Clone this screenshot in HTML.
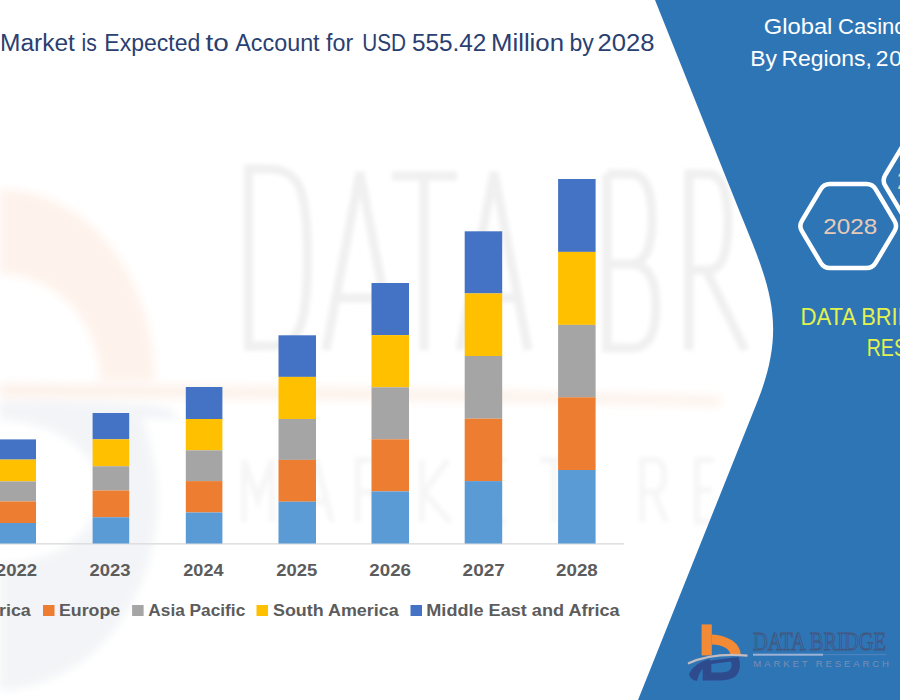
<!DOCTYPE html>
<html><head><meta charset="utf-8">
<style>
html,body{margin:0;padding:0;background:#fff;}
body{width:900px;height:700px;overflow:hidden;position:relative;font-family:"Liberation Sans",sans-serif;}
svg{position:absolute;left:0;top:0;display:block;}
</style></head>
<body>
<svg width="900" height="700" viewBox="0 0 900 700" font-family="Liberation Sans, sans-serif">
<rect x="0" y="0" width="900" height="700" fill="#ffffff"/>


<!-- watermark -->
<defs>
<filter id="blur2" x="-10%" y="-10%" width="120%" height="120%"><feGaussianBlur stdDeviation="2"/></filter>
<filter id="blur4" x="-10%" y="-10%" width="120%" height="120%"><feGaussianBlur stdDeviation="4"/></filter>
</defs>
<g filter="url(#blur4)">
<path d="M0,381 L0,189 A155,192 0 0 1 155,381 L100,381 A100,107 0 0 0 0,274 Z" fill="#FEF3EC"/>
<path d="M0,383 Q350,386 720,396 L720,406 Q350,398 0,398 Z" fill="#FDF2EB"/>
<path d="M0,402 Q150,400 175,412 L175,420 Q150,414 0,418 Z" fill="#F1F3F7"/>
<path d="M0,405 L136,405 A160,190 0 0 1 0,690 Z M0,420 A100,72 0 0 1 0,564 Z" fill="#F3F4F7" fill-rule="evenodd"/>
</g>
<g filter="url(#blur2)" fill="none" stroke="#F0F0F0" stroke-width="9">
<path d="M248.5,169 L268,169 C300,169 307.5,190 307.5,258 C307.5,326 300,346 268,346 L248.5,346 Z"/>
<path d="M326,350 L360,172 L394,350 M335,298 L385,298"/>
<path d="M392,176 L457,176 M424,176 L424,350"/>
<path d="M460,350 L494,172 L528,350 M469,298 L519,298"/>
<path d="M607,174 L607,348 L632,348 Q656,348 656,306 Q656,264 630,264 L607,264 M630,264 Q652,264 652,219 Q652,174 630,174 L607,174"/>
<path d="M689,350 L689,174 L708,174 Q728,174 728,222 Q728,270 708,270 L689,270 M706,270 L745,350"/>
</g>
<g filter="url(#blur2)" fill="none" stroke="#F6F6F6" stroke-width="6">
<path d="M244,522 L244,460 L258,500 L272,460 L272,522"/>
<path d="M300,522 L316,460 L332,522 M305,502 L327,502"/>
<path d="M358,522 L358,460 L372,460 Q384,460 384,476 Q384,492 372,492 L358,492 M372,492 L386,522"/>
<path d="M422,522 L422,460 M448,460 L424,492 L450,522"/>
<path d="M506,460 L484,460 L484,522 L506,522 M484,490 L502,490"/>
<path d="M540,460 L568,460 M554,460 L554,522"/>
<path d="M642,522 L642,460 L654,460 Q664,460 664,476 Q664,492 654,492 L642,492 M654,492 L666,522"/>
<path d="M714,460 L697,460 L697,522 L714,522 M697,490 L712,490"/>
</g>

<!-- right blue panel -->
<path d="M655,0 L900,0 L900,700 L638,700 L718,500 L758,400 C789.5,320 767,280 735,200 Z" fill="#2E75B6"/>

<!-- title -->
<g font-size="23" fill="#2A4070">
<text x="-0.0" y="50.5" textLength="74.9" lengthAdjust="spacingAndGlyphs">Market</text>
<text x="81.5" y="50.5" textLength="15.3" lengthAdjust="spacingAndGlyphs">is</text>
<text x="104.3" y="50.5" textLength="96.0" lengthAdjust="spacingAndGlyphs">Expected</text>
<text x="205.4" y="50.5" textLength="23.3" lengthAdjust="spacingAndGlyphs">to</text>
<text x="235.3" y="50.5" textLength="84.3" lengthAdjust="spacingAndGlyphs">Account</text>
<text x="326.1" y="50.5" textLength="27.2" lengthAdjust="spacingAndGlyphs">for</text>
<text x="362.3" y="50.5" textLength="43.8" lengthAdjust="spacingAndGlyphs">USD</text>
<text x="411.9" y="50.5" textLength="74.5" lengthAdjust="spacingAndGlyphs">555.42</text>
<text x="491.0" y="50.5" textLength="73.0" lengthAdjust="spacingAndGlyphs">Million</text>
<text x="569.4" y="50.5" textLength="24.3" lengthAdjust="spacingAndGlyphs">by</text>
<text x="597.6" y="50.5" textLength="57.0" lengthAdjust="spacingAndGlyphs">2028</text>
</g>

<!-- axis -->
<rect x="0" y="543.2" width="624" height="1.3" fill="#DADADA"/>

<!-- bars -->
<g id="bars">
<!-- 2022 -->
<rect x="-1" y="439.4" width="37" height="20.2" fill="#4472C4"/>
<rect x="-1" y="459.6" width="37" height="21.8" fill="#FFC000"/>
<rect x="-1" y="481.4" width="37" height="20" fill="#A5A5A5"/>
<rect x="-1" y="501.4" width="37" height="21.6" fill="#ED7D31"/>
<rect x="-1" y="523" width="37" height="20.5" fill="#5B9BD5"/>
<!-- 2023 -->
<rect x="92.6" y="413" width="36.6" height="26.3" fill="#4472C4"/>
<rect x="92.6" y="439.3" width="36.6" height="27" fill="#FFC000"/>
<rect x="92.6" y="466.3" width="36.6" height="24.2" fill="#A5A5A5"/>
<rect x="92.6" y="490.5" width="36.6" height="26.8" fill="#ED7D31"/>
<rect x="92.6" y="517.3" width="36.6" height="26.2" fill="#5B9BD5"/>
<!-- 2024 -->
<rect x="185.8" y="387" width="36.6" height="32" fill="#4472C4"/>
<rect x="185.8" y="419" width="36.6" height="31.3" fill="#FFC000"/>
<rect x="185.8" y="450.3" width="36.6" height="30.8" fill="#A5A5A5"/>
<rect x="185.8" y="481.1" width="36.6" height="31.4" fill="#ED7D31"/>
<rect x="185.8" y="512.5" width="36.6" height="31" fill="#5B9BD5"/>
<!-- 2025 -->
<rect x="278.5" y="335.3" width="37.5" height="41.6" fill="#4472C4"/>
<rect x="278.5" y="376.9" width="37.5" height="42.1" fill="#FFC000"/>
<rect x="278.5" y="419" width="37.5" height="40.9" fill="#A5A5A5"/>
<rect x="278.5" y="459.9" width="37.5" height="41.8" fill="#ED7D31"/>
<rect x="278.5" y="501.7" width="37.5" height="41.8" fill="#5B9BD5"/>
<!-- 2026 -->
<rect x="371.5" y="283" width="37.5" height="52.1" fill="#4472C4"/>
<rect x="371.5" y="335.1" width="37.5" height="52.2" fill="#FFC000"/>
<rect x="371.5" y="387.3" width="37.5" height="52" fill="#A5A5A5"/>
<rect x="371.5" y="439.3" width="37.5" height="52.1" fill="#ED7D31"/>
<rect x="371.5" y="491.4" width="37.5" height="52.1" fill="#5B9BD5"/>
<!-- 2027 -->
<rect x="464.7" y="231.3" width="37.5" height="62.1" fill="#4472C4"/>
<rect x="464.7" y="293.4" width="37.5" height="62.6" fill="#FFC000"/>
<rect x="464.7" y="356" width="37.5" height="62.7" fill="#A5A5A5"/>
<rect x="464.7" y="418.7" width="37.5" height="62.4" fill="#ED7D31"/>
<rect x="464.7" y="481.1" width="37.5" height="62.4" fill="#5B9BD5"/>
<!-- 2028 -->
<rect x="558.1" y="179" width="37.5" height="72.9" fill="#4472C4"/>
<rect x="558.1" y="251.9" width="37.5" height="73" fill="#FFC000"/>
<rect x="558.1" y="324.9" width="37.5" height="72.4" fill="#A5A5A5"/>
<rect x="558.1" y="397.3" width="37.5" height="72.7" fill="#ED7D31"/>
<rect x="558.1" y="470" width="37.5" height="73.5" fill="#5B9BD5"/>
</g>

<!-- year labels -->
<g font-size="16.3" font-weight="bold" fill="#5C5C5C">
<text x="-4.2" y="576" textLength="41.3" lengthAdjust="spacingAndGlyphs">2022</text>
<text x="89.6" y="576" textLength="41.0" lengthAdjust="spacingAndGlyphs">2023</text>
<text x="183.3" y="576" textLength="40.2" lengthAdjust="spacingAndGlyphs">2024</text>
<text x="276.3" y="576" textLength="41.0" lengthAdjust="spacingAndGlyphs">2025</text>
<text x="369.3" y="576" textLength="41.7" lengthAdjust="spacingAndGlyphs">2026</text>
<text x="462.6" y="576" textLength="42.2" lengthAdjust="spacingAndGlyphs">2027</text>
<text x="556.0" y="576" textLength="41.8" lengthAdjust="spacingAndGlyphs">2028</text>
</g>

<!-- legend -->
<g font-size="15.6" font-weight="bold" fill="#5C5C5C">
<text x="-1" y="615.8" textLength="31.8" lengthAdjust="spacingAndGlyphs">rica</text>
<rect x="43" y="605" width="11.5" height="11" fill="#ED7D31"/>
<text x="59" y="615.8" textLength="61.2" lengthAdjust="spacingAndGlyphs">Europe</text>
<rect x="132.1" y="605" width="11.5" height="11" fill="#A5A5A5"/>
<text x="148.3" y="615.8" textLength="97" lengthAdjust="spacingAndGlyphs">Asia Pacific</text>
<rect x="256.5" y="605" width="11.5" height="11" fill="#FFC000"/>
<text x="273" y="615.8" textLength="125.6" lengthAdjust="spacingAndGlyphs">South America</text>
<rect x="410.5" y="605" width="11.5" height="11" fill="#4472C4"/>
<text x="426.3" y="615.8" textLength="193.4" lengthAdjust="spacingAndGlyphs">Middle East and Africa</text>
</g>

<!-- right panel text -->
<g font-size="22" fill="#ffffff">
<text x="763.8" y="34.4" textLength="68.6" lengthAdjust="spacingAndGlyphs">Global</text>
<text x="838.0" y="34.4" textLength="56.3" lengthAdjust="spacingAndGlyphs">Casin</text>
<text x="894.2" y="34.4" textLength="12.3" lengthAdjust="spacingAndGlyphs">o</text>
<text x="750.3" y="65.5" textLength="26.7" lengthAdjust="spacingAndGlyphs">By</text>
<text x="781.4" y="65.5" textLength="90.4" lengthAdjust="spacingAndGlyphs">Regions,</text>
<text x="875.8" y="65.5" textLength="12.7" lengthAdjust="spacingAndGlyphs">2</text>
<text x="889.3" y="65.5" textLength="12.7" lengthAdjust="spacingAndGlyphs">0</text>
</g>


<!-- hexagons -->
<path d="M801.9,231.2 Q798.8,226.0 801.9,220.8 L820.8,189.1 Q823.9,183.9 829.9,183.9 L866.5,183.9 Q872.5,183.9 875.6,189.1 L894.5,220.8 Q897.6,226.0 894.5,231.2 L875.6,262.9 Q872.5,268.1 866.5,268.1 L829.9,268.1 Q823.9,268.1 820.8,262.9 Z" fill="none" stroke="#ffffff" stroke-width="4.5" stroke-linejoin="round"/>
<path d="M885.2,185.6 Q882.1,180.4 885.2,175.2 L904.1,143.5 Q907.2,138.3 913.2,138.3 L949.8,138.3 Q955.8,138.3 958.9,143.5 L977.8,175.2 Q980.9,180.4 977.8,185.6 L958.9,217.3 Q955.8,222.5 949.8,222.5 L913.2,222.5 Q907.2,222.5 904.1,217.3 Z" fill="none" stroke="#ffffff" stroke-width="4.5" stroke-linejoin="round"/>
<text x="823.3" y="234" font-size="22.6" fill="#E8CAB8" textLength="54" lengthAdjust="spacingAndGlyphs">2028</text>
<text x="897" y="189" font-size="23.3" fill="#E8CAB8">2</text>

<!-- DATA BRIDGE text -->
<g font-size="23" fill="#E2F24E">
<text x="800.4" y="324.7" textLength="56.0" lengthAdjust="spacingAndGlyphs">DATA</text>
<text x="861.3" y="324.7" textLength="83.7" lengthAdjust="spacingAndGlyphs">BRIDGE</text>
<text x="866.7" y="355.8" textLength="108.9" lengthAdjust="spacingAndGlyphs">RESEARCH</text>
</g>



<!-- logo -->
<g>
<rect x="701.6" y="624.4" width="10.2" height="31" fill="#F28A36"/>
<path d="M711.8,655 L711.8,634.6 A29,20.4 0 0 1 740.8,655 L730.3,655 A18.5,10.5 0 0 0 711.8,644.5 Z" fill="#F28A36"/>
<path d="M702.7,661.5 L738.5,657 Q742.5,668 736,676 Q730,680.6 718,680.6 L702.7,680.6 Z M711.3,664 L731,661.5 Q733,668 728.5,671 Q725,672.6 718,672.6 L711.3,672.6 Z" fill="#2E4B8E" fill-rule="evenodd"/>
<path d="M689,674 Q693,664 709,659 L710.5,663.5 Q700,667 697,681 Q690.5,680 689,674 Z" fill="#2E4B8E"/>
<path d="M688,663.5 Q712,652.5 747.5,655.6" fill="none" stroke="#C5BCC2" stroke-width="2.2"/>
<text x="753" y="650" font-family="Liberation Serif, serif" font-size="25.2" fill="none" stroke="#44547A" stroke-width="0.85" textLength="133" lengthAdjust="spacingAndGlyphs">DATA BRIDGE</text>
<rect x="753" y="653.7" width="70" height="2" fill="#9CB2D4"/>
<rect x="823" y="654.3" width="63" height="0.8" fill="#5E86BE"/>
<text x="753.3" y="666.7" font-size="9.6" fill="#7A8EB3" textLength="135.7" lengthAdjust="spacing">MARKET RESEARCH</text>
</g>

</svg>
</body></html>
